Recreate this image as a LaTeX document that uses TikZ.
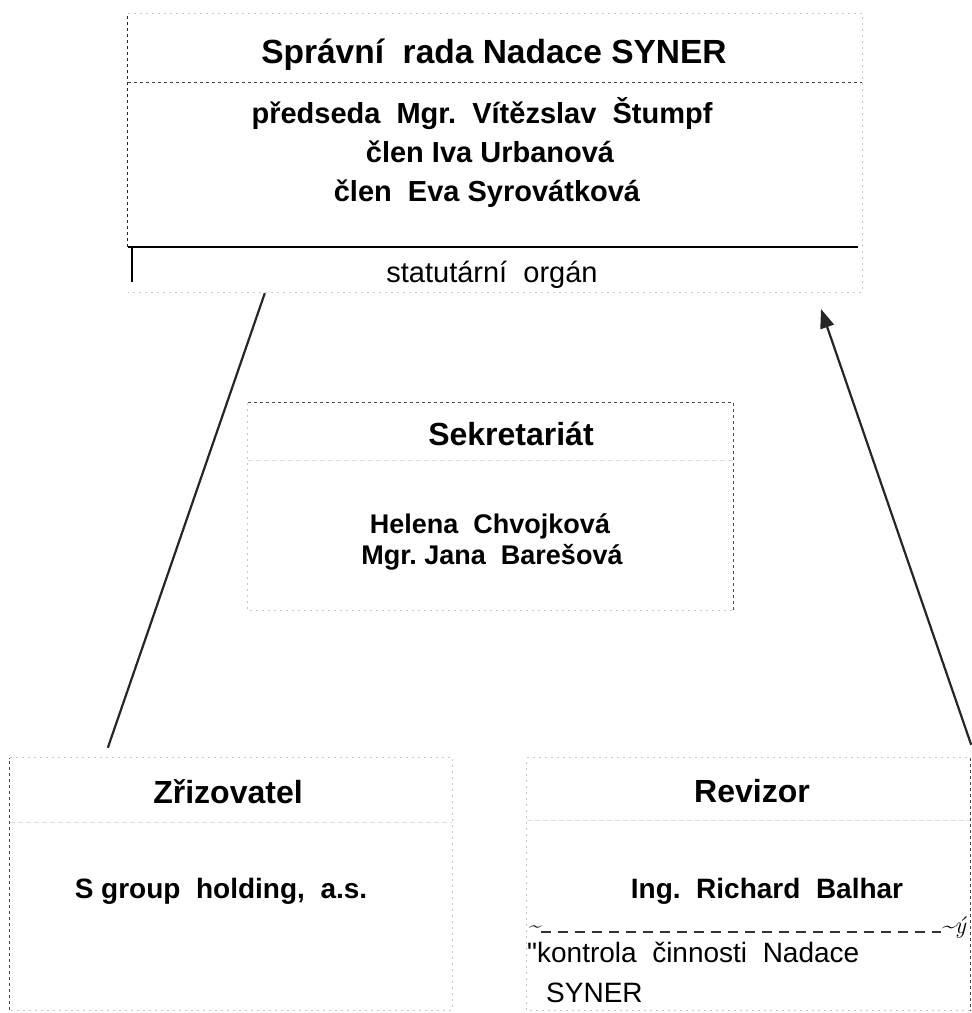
\documentclass[tikz,border=0pt]{standalone}
\usepackage{fontspec}
\newfontfamily\arial{Liberation Sans}
\usetikzlibrary{arrows.meta,calc}
\tikzset{
  faintedge/.style={draw=gray!45, line width=1pt, dash pattern=on 2pt off 4pt},
  darkedge/.style={draw=gray!30!black, line width=1pt, dash pattern=on 3pt off 3pt},
  sepline/.style={draw=gray!25, line width=1pt, dash pattern=on 5pt off 3pt},
  boxarea/.style={draw=none, rectangle, inner sep=0pt},
  headtxt/.style={font=\arial\bfseries\fontsize{32}{36}\selectfont, inner sep=0pt, anchor=base},
  bodytxt/.style={font=\arial\bfseries\fontsize{29}{33}\selectfont, inner sep=0pt, anchor=base},
  plaintxt/.style={font=\arial\fontsize{29}{33}\selectfont, inner sep=0pt, anchor=base},
  conn/.style={draw=black!85, line width=2.2pt},
}
\begin{document}
\begin{tikzpicture}[x=1pt,y=-1pt]
\useasboundingbox (0,0) rectangle (972,1013);
% ---------- top box ----------
\node[boxarea, minimum width=734pt, minimum height=278pt] (rada) at (495,153) {};
\draw[faintedge] (rada.north west) -- (rada.north east) -- (rada.south east) -- (rada.south west);
\draw[darkedge] (rada.south west |- 0,247) -- (rada.north west);
\draw[darkedge, draw=gray!50!black] (rada.west |- 0,82) -- (rada.east |- 0,82);
\draw[black, line width=2.4pt] (rada.west |- 0,247) -- ($(rada.east |- 0,247)+(-4,0)$);
\draw[black, line width=2.4pt] (132,247) -- (132,282);
\node[headtxt, font=\arial\bfseries\fontsize{33.5}{38}\selectfont] (radat) at (494,63) {Správní\ \ rada Nadace SYNER};
\node[bodytxt] (pred) at (482,123) {předseda\ \ Mgr.\ \ Vítězslav\ \ Štumpf};
\node[bodytxt] (clen1) at (490,162) {člen Iva Urbanová};
\node[bodytxt] (clen2) at (487,201) {člen\ \ Eva Syrovátková};
\node[plaintxt] (stat) at (492,282) {statutární\ \ orgán};
% ---------- secretariat ----------
\node[boxarea, minimum width=485pt, minimum height=207pt] (sekr) at (490.5,506.5) {};
\draw[faintedge] (sekr.north west) -- (sekr.south west) -- (sekr.south east);
\draw[darkedge, draw=gray!60!black] (sekr.north west) -- (sekr.north east) -- (sekr.south east);
\draw[sepline] (sekr.west |- 0,460) -- (sekr.east |- 0,460);
\node[headtxt] (sekrt) at (511,445) {Sekretariát};
\node[bodytxt, font=\arial\bfseries\fontsize{27}{31}\selectfont] (hel) at (490,533) {Helena\ \ Chvojková};
\node[bodytxt, font=\arial\bfseries\fontsize{27}{31}\selectfont] (jana) at (492,564) {Mgr.\ Jana\ \ Barešová};
% ---------- founder ----------
\node[boxarea, minimum width=442pt, minimum height=252pt] (zriz) at (231,884) {};
\draw[faintedge] (zriz.north west) -- (zriz.north east) -- (zriz.south east) -- (zriz.south west);
\draw[darkedge, draw=gray!55!black] (zriz.south west) -- (zriz.north west);
\draw[sepline] (zriz.west |- 0,822) -- (zriz.east |- 0,822);
\node[headtxt] (zrizt) at (228,803) {Zřizovatel};
\node[bodytxt, font=\arial\bfseries\fontsize{28}{32}\selectfont] (sgrp) at (221,898) {S group\ \ holding,\ \ a.s.};
% ---------- auditor ----------
\node[boxarea, minimum width=443pt, minimum height=252pt] (rev) at (748.5,884) {};
\draw[faintedge] (rev.south east) -- (rev.south west) -- (rev.north west) -- (rev.north east);
\draw[darkedge, draw=gray!55!black] (rev.north east) -- (rev.south east);
\draw[sepline] (rev.west |- 0,820) -- (rev.east |- 0,820);
\node[headtxt] (revt) at (752,802) {Revizor};
\node[bodytxt, font=\arial\bfseries\fontsize{28}{32}\selectfont] (ing) at (767,898) {Ing.\ \ Richard\ \ Balhar};
\node[inner sep=0pt, anchor=west, font=\fontsize{22}{24}\selectfont\itshape] (tl) at (528,929) {\textasciitilde};
\node[inner sep=0pt, anchor=east, font=\fontsize{24}{26}\selectfont\itshape] (tr) at (966,928) {\textasciitilde ý};
\draw[draw=gray!40!black, line width=1.2pt, dash pattern=on 10pt off 7pt] (tl.east |- 0,932) -- (tr.west |- 0,932);
\node[plaintxt, font=\arial\fontsize{28}{32}\selectfont, anchor=base west] (kont) at (527,962) {"kontrola\ \ činnosti\ \ Nadace};
\node[plaintxt, font=\arial\fontsize{28}{32}\selectfont, anchor=base west] (syn) at (546,1002) {SYNER};
% ---------- connectors ----------
\coordinate (c1a) at ($(zriz.north west)+(98,-10)$);
\coordinate (c1b) at ($(rada.south west)+(137,1)$);
\draw[conn] (c1a) -- (c1b);
\coordinate (c2a) at ($(rev.north east)+(1,-13)$);
\coordinate (c2b) at (821,309);
\draw[conn, -{Triangle[length=19pt,width=14pt]}] (c2a) -- (c2b);
\end{tikzpicture}
\end{document}
